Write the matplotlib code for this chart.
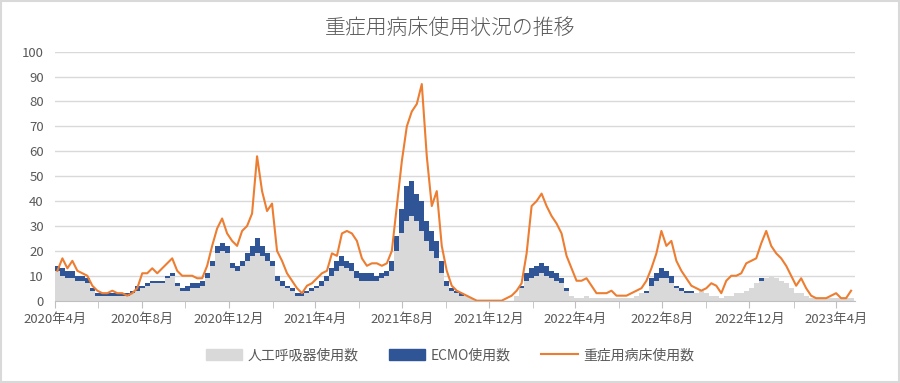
import matplotlib
matplotlib.use("Agg")
import matplotlib.pyplot as plt
import matplotlib.dates as mdates
from matplotlib.patches import Patch, Rectangle
from matplotlib.lines import Line2D
import numpy as np
import pandas as pd

plt.rcParams['font.family'] = ['Noto Sans CJK JP', 'DejaVu Sans']

# weekly readings, starting 2020-04-01
start_date = '2020-04-01'
n_weeks = 160

# 人工呼吸器使用数
ventilator = [12, 10, 9, 9, 8, 8, 7, 4, 2, 2, 2, 2, 2, 2, 2, 3, 4, 5, 6, 7,
              7, 7, 9, 10, 6, 4, 4, 5, 5, 6, 9, 14, 19, 20, 19, 13, 12, 14, 16, 18,
              19, 18, 16, 14, 8, 6, 5, 4, 2, 2, 3, 4, 5, 6, 8, 10, 12, 14, 13, 12,
              9, 8, 8, 8, 8, 9, 10, 12, 20, 27, 32, 34, 32, 28, 24, 20, 17, 11, 6, 4,
              3, 2, 2, 1, 0, 0, 0, 0, 0, 0, 0, 0, 2, 5, 8, 9, 10, 11, 10, 9,
              8, 7, 4, 2, 1, 1, 2, 1, 1, 1, 1, 1, 1, 1, 1, 1, 2, 3, 3, 6,
              8, 9, 9, 7, 5, 4, 3, 3, 3, 4, 3, 2, 2, 1, 2, 2, 3, 3, 4, 5,
              7, 8, 9, 10, 9, 8, 7, 5, 3, 3, 2, 1, 1, 1, 1, 1, 1, 1, 1, 1]

# ECMO使用数
ecmo = [2, 3, 3, 3, 2, 2, 2, 1, 1, 1, 1, 1, 1, 1, 1, 1, 2, 1, 1, 1,
        1, 1, 1, 1, 1, 1, 2, 2, 2, 2, 2, 2, 3, 3, 3, 2, 2, 2, 3, 4,
        6, 4, 3, 2, 2, 2, 1, 1, 1, 1, 1, 1, 1, 2, 2, 3, 4, 4, 3, 3,
        3, 3, 3, 3, 2, 2, 2, 4, 6, 10, 14, 14, 11, 12, 8, 8, 7, 5, 2, 1,
        1, 1, 0, 0, 0, 0, 0, 0, 0, 0, 0, 0, 0, 1, 3, 4, 4, 4, 4, 3,
        3, 2, 1, 0, 0, 0, 0, 0, 0, 0, 0, 0, 0, 0, 0, 0, 0, 0, 1, 3,
        3, 4, 3, 3, 1, 1, 1, 1, 0, 0, 0, 0, 0, 0, 0, 0, 0, 0, 0, 0,
        0, 1, 0, 0, 0, 0, 0, 0, 0, 0, 0, 0, 0, 0, 0, 0, 0, 0, 0, 0]

# 重症用病床使用数
beds = [12, 17, 13, 16, 12, 11, 10, 6, 4, 3, 3, 4, 3, 3, 2, 3, 5, 11, 11, 13,
        11, 13, 15, 17, 12, 10, 10, 10, 9, 9, 14, 22, 29, 33, 27, 24, 22, 28, 30, 35,
        58, 44, 36, 39, 20, 16, 11, 8, 5, 3, 6, 7, 9, 11, 12, 19, 18, 27, 28, 27,
        24, 17, 14, 15, 15, 14, 15, 20, 38, 56, 70, 76, 79, 87, 58, 38, 44, 22, 12, 6,
        4, 3, 2, 1, 0, 0, 0, 0, 0, 0, 1, 2, 4, 7, 19, 38, 40, 43, 38, 34,
        31, 27, 18, 13, 8, 8, 9, 6, 3, 3, 3, 4, 2, 2, 2, 3, 4, 5, 8, 13,
        19, 28, 22, 24, 16, 12, 9, 6, 5, 4, 5, 7, 6, 3, 8, 10, 10, 11, 15, 16,
        17, 23, 28, 22, 19, 17, 14, 10, 6, 9, 5, 2, 1, 1, 1, 2, 3, 1, 1, 4]

tick_months = ['2020-04-01', '2020-08-01', '2020-12-01', '2021-04-01', '2021-08-01',
               '2021-12-01', '2022-04-01', '2022-08-01', '2022-12-01', '2023-04-01']
tick_labels = ['2020年4月', '2020年8月', '2020年12月', '2021年4月', '2021年8月',
               '2021年12月', '2022年4月', '2022年8月', '2022年12月', '2023年4月']

GRAY = '#d9d9d9'
BLUE = '#2f5597'
ORANGE = '#ed7d31'
TXT = '#595959'

weeks = pd.date_range(start_date, periods=n_weeks, freq='7D')
x = mdates.date2num(weeks)
vent = np.array(ventilator)
ec = np.array(ecmo)

fig = plt.figure(figsize=(9, 3.83), dpi=100)
ax = fig.add_axes([0.061, 0.215, 0.889, 0.65])

ax.bar(x, vent, width=7, align='edge', color=GRAY, linewidth=0, zorder=2)
ax.bar(x, ec, bottom=vent, width=7, align='edge', color=BLUE, linewidth=0, zorder=2)
ax.plot(x + 3.5, beds, color=ORANGE, lw=1.5, zorder=3)

x0 = mdates.date2num(pd.Timestamp(start_date))
ax.set_xlim(x0, x0 + 1122)
ax.set_ylim(0, 100)
ax.set_yticks(range(0, 101, 10))
ax.grid(axis='y', color=GRAY, lw=1, zorder=0)

ax.set_xticks(mdates.date2num(pd.to_datetime(tick_months)))
ax.set_xticklabels(tick_labels)
minor = pd.date_range('2020-06-01', '2023-02-01', freq='4MS')
ax.set_xticks(mdates.date2num(minor), minor=True)

ax.tick_params(axis='x', which='both', direction='out', length=5, color='#bfbfbf',
               labelsize=9.5, labelcolor=TXT, pad=4)
ax.tick_params(axis='y', length=0, labelsize=9.5, labelcolor=TXT, pad=8)
for s in ['top', 'right', 'left']:
    ax.spines[s].set_visible(False)
ax.spines['bottom'].set_color('#bfbfbf')
ax.spines['bottom'].set_zorder(4)

fig.suptitle('重症用病床使用状況の推移', x=0.5, y=0.955, fontsize=15, color=TXT,
             fontweight='light')

handles = [Patch(color=GRAY), Patch(color=BLUE), Line2D([], [], color=ORANGE, lw=1.5)]
fig.legend(handles, ['人工呼吸器使用数', 'ECMO使用数', '重症用病床使用数'],
           loc='center', bbox_to_anchor=(0.5, 0.072), ncol=3, frameon=False,
           fontsize=10, labelcolor=TXT, handlelength=2.6, handleheight=0.8,
           columnspacing=2.2, handletextpad=0.4)

fig.patches.append(Rectangle((0.001, 0.002), 0.998, 0.996, transform=fig.transFigure,
                             fill=False, edgecolor=GRAY, lw=1.5))

fig.savefig('out.png', dpi=100)
